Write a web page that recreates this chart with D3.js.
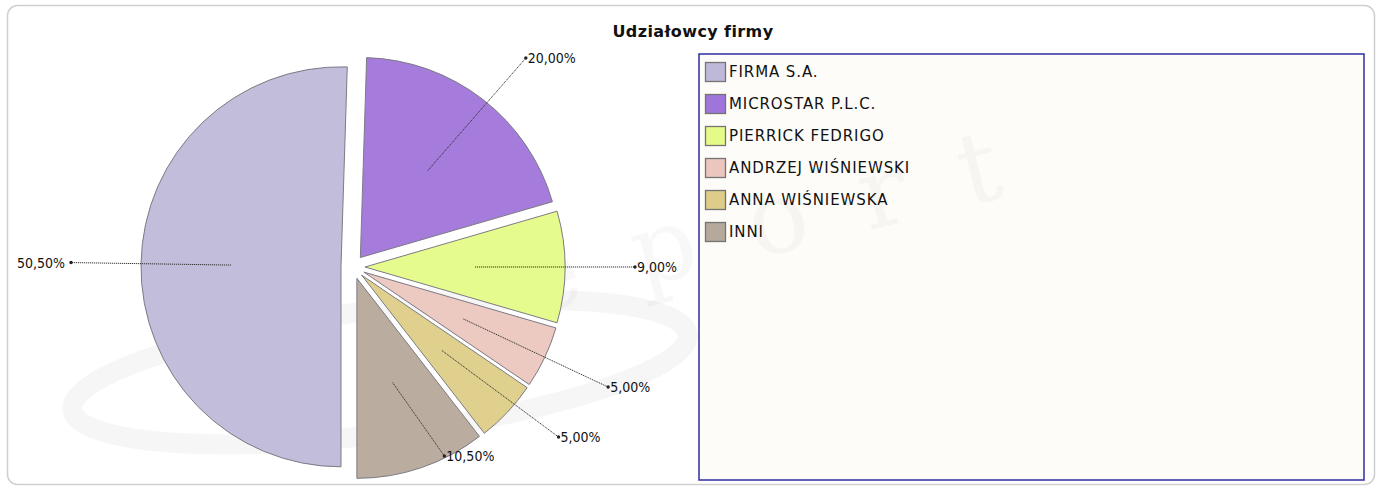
<!DOCTYPE html>
<html><head><meta charset="utf-8">
<script src="https://cdn.jsdelivr.net/npm/d3@7"></script>
<style>body{margin:0;background:#fff;overflow:hidden}</style>
</head><body>
<svg id="c" width="1379" height="488"></svg>
<script>
// ---- data ----
const categories = ["FIRMA S.A.", "MICROSTAR P.L.C.", "PIERRICK FEDRIGO", "ANDRZEJ WIŚNIEWSKI", "ANNA WIŚNIEWSKA", "INNI"];
const values = [50.5, 20, 9, 5, 5, 10.5];
const valueLabels = ["50,50%", "20,00%", "9,00%", "5,00%", "5,00%", "10,50%"];
const colors = ["#bfb9d9", "#a075da", "#e4fb87", "#ebc6be", "#ddcd88", "#b6a99b"];
const chartTitle = "Udziałowcy firmy";

// ---- layout ----
const svg = d3.select("#c");
const cx = 353, cy = 267, R = 200, explode = 12;

// outer frame
svg.append("rect").attr("x", 7.5).attr("y", 5.5).attr("width", 1367).attr("height", 479)
  .attr("rx", 10).attr("fill", "#fff").attr("stroke", "#cfcfcf").attr("stroke-width", 1.5);

// legend box
const lg = svg.append("g");
lg.append("rect").attr("x", 699).attr("y", 54).attr("width", 665).attr("height", 426)
  .attr("fill", "#fdfcf8").attr("stroke", "#3a3aa6").attr("stroke-width", 1.6);

// faint watermark
const wm = svg.append("g").attr("pointer-events", "none");
wm.append("ellipse").attr("cx", 380).attr("cy", 372).attr("rx", 310).attr("ry", 62)
  .attr("transform", "rotate(-7,380,372)")
  .attr("fill", "none").attr("stroke", "#000").attr("stroke-opacity", 0.035).attr("stroke-width", 20);
wm.append("text")
  .attr("transform", "translate(430,340) rotate(-14)")
  .attr("font-family", "DejaVu Serif, serif").attr("font-size", 100)
  .attr("letter-spacing", 55)
  .attr("fill", "#000").attr("fill-opacity", 0.028)
  .text("report");

// title
svg.append("text").attr("x", 693).attr("y", 37).attr("text-anchor", "middle")
  .attr("font-family", "DejaVu Sans, sans-serif").attr("font-weight", "bold")
  .attr("font-size", 16).attr("letter-spacing", 0.4).attr("fill", "#111").text(chartTitle);

// pie
const pie = d3.pie().sort(null).value(d => d).startAngle(Math.PI).endAngle(3 * Math.PI);
const arcs = pie(values);
const arc = d3.arc().innerRadius(0).outerRadius(R);
const pg = svg.append("g").attr("transform", `translate(${cx},${cy})`);

arcs.forEach(a => {
  a.mid = (a.startAngle + a.endAngle) / 2;
  a.dx = Math.sin(a.mid) * explode;
  a.dy = -Math.cos(a.mid) * explode;
});

pg.selectAll("path.slice").data(arcs).enter().append("path")
  .attr("class", "slice")
  .attr("transform", d => `translate(${d.dx},${d.dy})`)
  .attr("d", arc)
  .attr("fill", (d, i) => colors[i])
  .attr("fill-opacity", 0.95)
  .attr("stroke", "#7d7a84").attr("stroke-width", 1);

// labels: anchor points
const labelR = 1.35 * R, innerR = 0.55 * R;
const yMin = 58 - cy, yMax = 456 - cy, gap = 19;
const lab = arcs.map((a, i) => {
  const sx = Math.sin(a.mid), sy = -Math.cos(a.mid);
  let ex = a.dx + sx * labelR, ey = a.dy + sy * labelR;
  ey = Math.max(yMin, Math.min(yMax, ey));
  return {i, mid: a.mid, x0: a.dx + sx * innerR, y0: a.dy + sy * innerR, x: ex, y: ey, right: sx >= 0};
});
[true, false].forEach(side => {
  const s = lab.filter(l => l.right === side)
    .sort((a, b) => (b.y - a.y) || (side ? b.mid - a.mid : a.mid - b.mid));
  for (let k = 1; k < s.length; k++) {
    if (s[k].y > s[k - 1].y - gap) s[k].y = s[k - 1].y - gap;
  }
});

pg.selectAll("line.lead").data(lab).enter().append("line")
  .attr("class", "lead")
  .attr("x1", d => d.x0).attr("y1", d => d.y0).attr("x2", d => d.x).attr("y2", d => d.y)
  .attr("stroke", "#333").attr("stroke-width", 1).attr("stroke-dasharray", "1.2,0.8");
pg.selectAll("circle.tip").data(lab).enter().append("circle")
  .attr("class", "tip").attr("cx", d => d.x).attr("cy", d => d.y).attr("r", 1.7).attr("fill", "#222");
pg.selectAll("text.lbl").data(lab).enter().append("text")
  .attr("class", "lbl")
  .attr("x", d => d.right ? d.x + 2 : d.x - 6)
  .attr("y", d => d.y + 5)
  .attr("text-anchor", d => d.right ? "start" : "end")
  .attr("font-family", "DejaVu Sans Condensed, DejaVu Sans, sans-serif")
  .attr("font-stretch", "condensed")
  .attr("font-size", 14).attr("fill", "#111")
  .text(d => valueLabels[d.i]);

// legend items
const items = lg.selectAll("g.item").data(categories).enter().append("g")
  .attr("class", "item").attr("transform", (d, i) => `translate(705,${62 + i * 32})`);
items.append("rect").attr("x", 0.5).attr("y", 0.5).attr("width", 20).attr("height", 19)
  .attr("fill", (d, i) => colors[i]).attr("stroke", "#747474").attr("stroke-width", 1.3);
items.append("text").attr("x", 24).attr("y", 15.3)
  .attr("font-family", "DejaVu Sans, sans-serif").attr("font-size", 15)
  .attr("letter-spacing", 0.9).attr("fill", "#111").text(d => d);
</script>
</body></html>
